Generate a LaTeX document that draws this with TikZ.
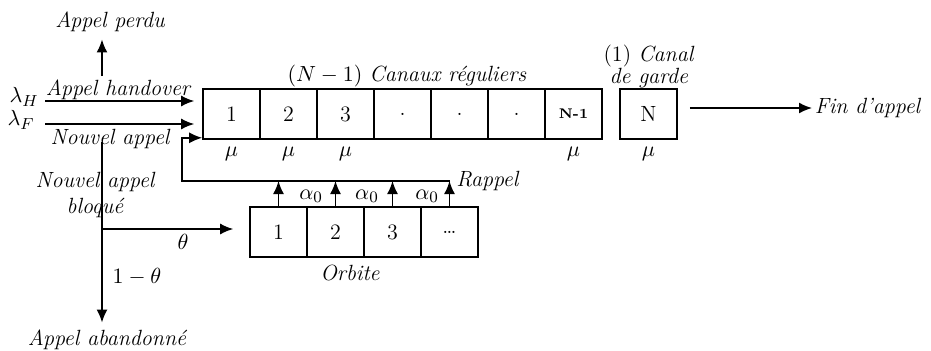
\documentclass[tikz,border=0pt]{standalone}
\usepackage{amsmath}
\usepackage{fontspec}
\usepackage{tikz}
\usetikzlibrary{arrows,arrows.meta,positioning}

\begin{document}
\begin{tikzpicture}
[x=0.5pt,y=-0.5pt,line width=0.8pt,
 every node/.style={font=\fontsize{11}{13}\selectfont},
 cell/.style={draw=black!100,inner sep=0pt,minimum width=28.5pt,minimum height=25pt,label distance=1pt},
 txt/.style={font=\fontsize{11}{13}\selectfont\itshape},
 arr/.style={-{Latex[length=6.5pt,width=5.5pt]}}]
\useasboundingbox (0,0) rectangle (931,350);

% canaux
\node[cell,label=below:$\mu$] (c1) at (231.5,114) {1};
\node[cell,label=below:$\mu$] (c2) at (288.5,114) {2};
\node[cell,label=below:$\mu$] (c3) at (345.5,114) {3};
\node[cell] (c4) at (402.5,114) {.};
\node[cell] (c5) at (459.5,114) {.};
\node[cell] (c6) at (516.5,114) {.};
\node[cell,label=below:$\mu$] (c7) at (573.5,114) {\scriptsize\bfseries N-1};
\node[cell,label=below:$\mu$] (cN) at (648.5,114) {N};
\node (reg) at (407,76) {$(N-1)$ \textit{Canaux réguliers}};
\node[align=center] (garde) at (649,66) {(1) \textit{Canal}\\[-2pt]\textit{de garde}};

% arrivees
\node (lH) at (24,97) {$\lambda_H$};
\node (lF) at (21,120) {$\lambda_F$};
\coordinate (hs) at (45,101);
\coordinate (ns) at (45,124);
\node[txt] (hand) at (118,90) {Appel handover};
\node[txt] (nouv) at (110,139) {Nouvel appel};
\node[txt] (perdu) at (110,22) {Appel perdu};
\coordinate (pp) at (102,76);

\draw [arr,shorten >=4pt] (hs) -- (hs -| c1.west);
\draw [arr,shorten >=4pt] (ns) -- (ns -| c1.west);
\draw [arr] (pp) -- (pp |- perdu.south);

% blocage
\coordinate (b0) at (102,142);
\coordinate (b1) at (102,229);
\node[txt,align=center] (bloq) at (95,195) {Nouvel appel\\bloqué};
\node[txt] (aband) at (107,340) {Appel abandonné};
\node (th) at (183,242) {$\theta$};
\node (th1) at (137,277) {$1-\theta$};

% orbite
\node[cell] (o1) at (278.5,232) {1};
\node[cell] (o2) at (335.5,232) {2};
\node[cell] (o3) at (392.5,232) {3};
\node[cell] (o4) at (449.5,232) {\dots};
\node[txt] (orb) at (350,273) {Orbite};
\node (a1) at (311,196) {$\alpha_0$};
\node (a2) at (367,196) {$\alpha_0$};
\node (a3) at (427,196) {$\alpha_0$};
\coordinate (rl) at (450,181);
\coordinate (rc) at (182,181);
\node[txt,anchor=west] (rap) at (449,181) {Rappel};

\draw [arr] (b0) -- (b0 |- aband.north);
\draw [arr,shorten >=8pt] (b1) -- (b1 -| o1.west);
\draw [arr] (rl) -- (rc) |- ([yshift=1pt]c1.south west);
\draw [arr] (o1.north) -- (o1.north |- rl);
\draw [arr] (o2.north) -- (o2.north |- rl);
\draw [arr] (o3.north) -- (o3.north |- rl);
\draw [arr] (o4.north) -- (o4.north |- rl);

% fin
\node[txt,anchor=west,inner sep=1pt] (fin) at (812,108) {Fin d'appel};
\draw [arr,shorten <=6pt] (cN.east |- fin) -- (fin.west);
\end{tikzpicture}
\end{document}
